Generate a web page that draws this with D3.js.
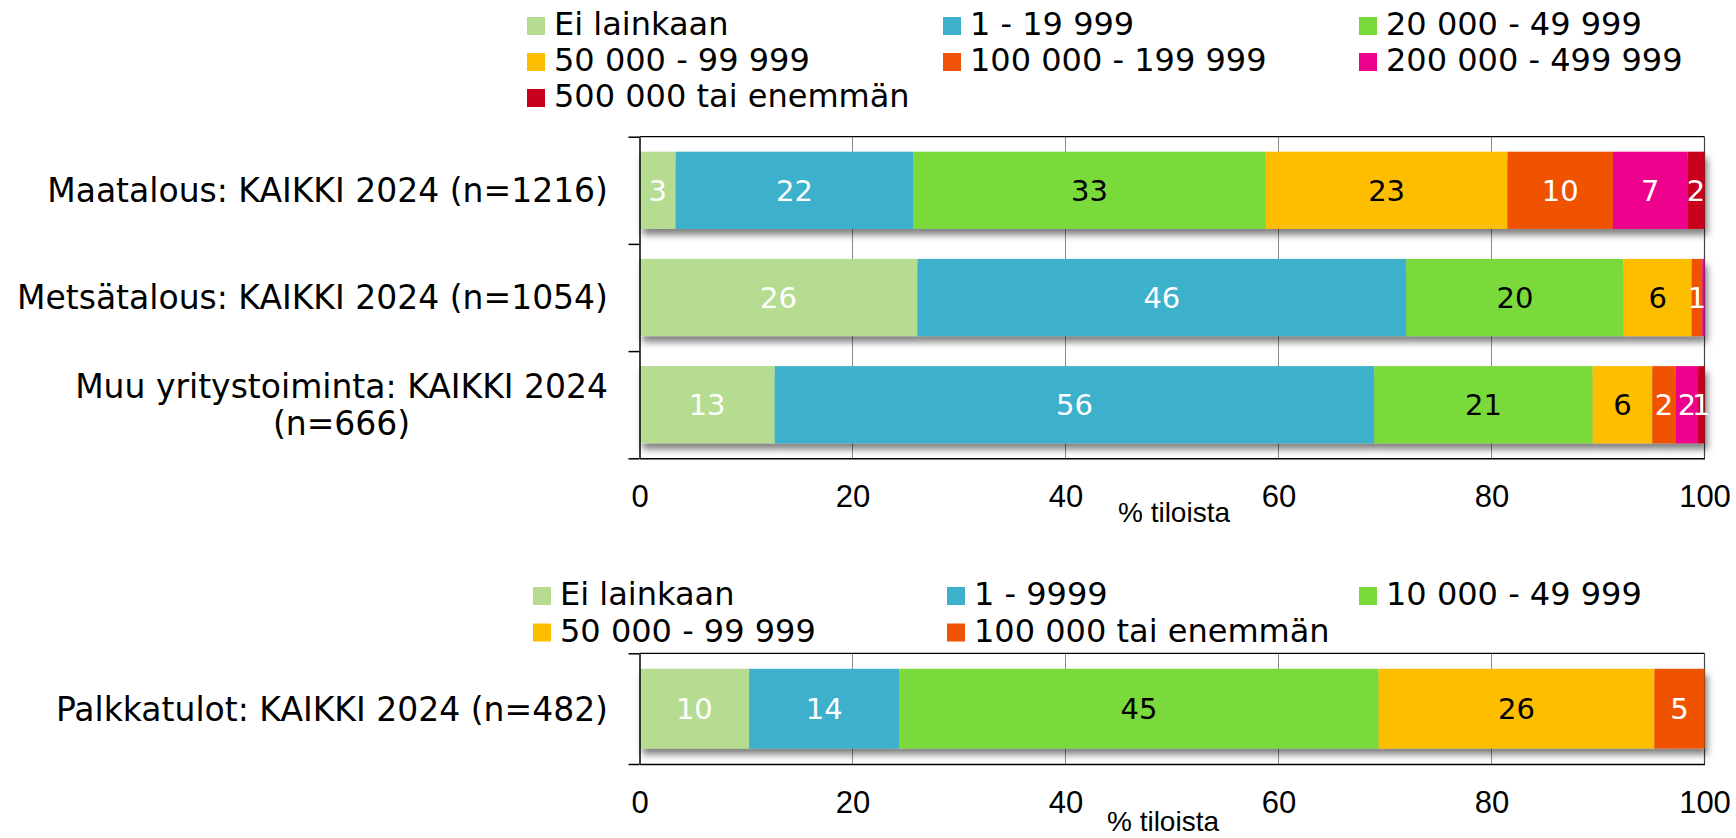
<!DOCTYPE html>
<html>
<head>
<meta charset="utf-8">
<script src="https://cdn.jsdelivr.net/npm/d3@7"></script>
<style>
  body { margin: 0; background: #fff; }
  svg { display: block; }
</style>
</head>
<body>
<div id="chart"></div>
<script>
// ---- data ----
let topCategories = ["Maatalous: KAIKKI 2024 (n=1216)", "Metsätalous: KAIKKI 2024 (n=1054)", "Muu yritystoiminta: KAIKKI 2024 (n=666)"];
let topSeries = ["Ei lainkaan", "1 - 19 999", "20 000 - 49 999", "50 000 - 99 999", "100 000 - 199 999", "200 000 - 499 999", "500 000 tai enemmän"];
let maatalousValues = [3.4, 22.3, 33.1, 22.7, 9.9, 7.0, 1.6];
let metsatalousValues = [26.1, 45.9, 20.4, 6.4, 1.0, 0.2, 0];
let muuValues = [12.7, 56.3, 20.5, 5.6, 2.2, 2.1, 0.6];

let bottomCategories = ["Palkkatulot: KAIKKI 2024 (n=482)"];
let bottomSeries = ["Ei lainkaan", "1 - 9999", "10 000 - 49 999", "50 000 - 99 999", "100 000 tai enemmän"];
let palkkaValues = [10.3, 14.1, 45.0, 25.9, 4.7];

let xTicks = [0, 20, 40, 60, 80, 100];
let axisTitle = "% tiloista";

// colours
let topColors = ["#b5dc90", "#3eb0cc", "#7ad93a", "#fdbe00", "#f05206", "#ec008c", "#c8001c"];
let topTextColors = ["#fff", "#fff", "#000", "#000", "#fff", "#fff", "#fff"];
let bottomColors = ["#b5dc90", "#3eb0cc", "#7ad93a", "#fdbe00", "#f05206"];
let bottomTextColors = ["#fff", "#fff", "#000", "#000", "#fff"];

let svgWidth = 1736;
let svgHeight = 838;

let svg = d3.select("#chart")
  .append("svg")
  .attr("width", svgWidth)
  .attr("height", svgHeight);

// drop shadow under the bars
let defs = svg.append("defs");
defs.append("filter")
  .attr("id", "shadow")
  .attr("x", "-5%").attr("y", "-20%")
  .attr("width", "115%").attr("height", "160%")
  .append("feDropShadow")
  .attr("dx", 3).attr("dy", 6)
  .attr("stdDeviation", 3.5)
  .attr("flood-color", "#000")
  .attr("flood-opacity", 0.5);

let xScale = d3.scaleLinear().domain([0, 100]).range([639.5, 1704.5]);

function drawPanel(cfg) {
  let g = svg.append("g");

  let yScale = d3.scaleBand()
    .domain(cfg.categories)
    .range([cfg.top, cfg.bottom])
    .paddingInner(0.28)
    .paddingOuter(0.14);

  // gridlines
  g.append("g")
    .selectAll("line")
    .data(xTicks.filter(t => t > 0 && t < 100))
    .enter()
    .append("line")
    .attr("x1", d => xScale(d)).attr("x2", d => xScale(d))
    .attr("y1", cfg.top).attr("y2", cfg.bottom)
    .attr("stroke", "#8c8c8c")
    .attr("stroke-width", 1);

  // plot frame: top and right
  g.append("line")
    .attr("x1", xScale(0)).attr("x2", xScale(100))
    .attr("y1", cfg.top).attr("y2", cfg.top)
    .attr("stroke", "#000").attr("stroke-width", 1.2);
  g.append("line")
    .attr("x1", xScale(100)).attr("x2", xScale(100))
    .attr("y1", cfg.top).attr("y2", cfg.bottom)
    .attr("stroke", "#444").attr("stroke-width", 1.2);

  // bars
  cfg.rows.forEach((vals, r) => {
    let cat = cfg.categories[r];
    let segs = [];
    let cum = 0;
    vals.forEach((v, i) => {
      segs.push({ start: cum, value: v, i: i });
      cum += v;
    });

    let row = g.append("g").attr("filter", "url(#shadow)");
    row.selectAll("rect")
      .data(segs.filter(s => s.value > 0))
      .enter()
      .append("rect")
      .attr("x", d => xScale(d.start))
      .attr("y", yScale(cat))
      .attr("width", d => xScale(d.start + d.value) - xScale(d.start))
      .attr("height", yScale.bandwidth())
      .attr("fill", d => cfg.colors[d.i]);

    g.append("g")
      .selectAll("text")
      .data(segs.filter(s => Math.round(s.value) >= 1))
      .enter()
      .append("text")
      .attr("x", d => xScale(d.start + d.value / 2))
      .attr("y", yScale(cat) + yScale.bandwidth() / 2)
      .attr("dy", "0.36em")
      .attr("text-anchor", "middle")
      .attr("font-family", "DejaVu Sans, sans-serif")
      .attr("font-size", 29)
      .attr("fill", d => cfg.textColors[d.i])
      .text(d => Math.round(d.value));
  });

  // left axis, ticks sit on the band boundaries
  let boundary = d3.scaleLinear().domain([0, cfg.categories.length]).range([cfg.top, cfg.bottom]);
  let leftAxis = d3.axisLeft(boundary)
    .tickValues(d3.range(cfg.categories.length + 1))
    .tickFormat("")
    .tickSize(11)
    .tickSizeOuter(0);
  let la = g.append("g")
    .attr("transform", `translate(${xScale(0)},0)`)
    .call(leftAxis);
  la.selectAll("path, line").attr("stroke", "#000").attr("stroke-width", 1.5);

  // bottom axis
  let bottomAxis = d3.axisBottom(xScale)
    .tickValues(xTicks)
    .tickSize(0)
    .tickSizeOuter(0)
    .tickPadding(27);
  let ba = g.append("g")
    .attr("transform", `translate(0,${cfg.bottom})`)
    .call(bottomAxis);
  ba.select(".domain").attr("stroke", "#000").attr("stroke-width", 1.5);
  ba.selectAll("text")
    .attr("font-family", "Liberation Sans, Arial, sans-serif")
    .attr("font-size", 31)
    .attr("fill", "#000");

  g.append("text")
    .attr("x", cfg.titleX)
    .attr("y", cfg.titleY)
    .attr("text-anchor", "middle")
    .attr("font-family", "Liberation Sans, Arial, sans-serif")
    .attr("font-size", 28)
    .text(axisTitle);

  // category labels, wrapped when too long and centred like Excel does
  cfg.categories.forEach(cat => {
    let t = g.append("text")
      .attr("font-family", "DejaVu Sans, sans-serif")
      .attr("font-size", 33)
      .attr("fill", "#000");
    let words = cat.split(" ");
    let lines = [];
    let line = [];
    words.forEach(w => {
      line.push(w);
      t.text(line.join(" "));
      if (t.node().getComputedTextLength() > 600 && line.length > 1) {
        line.pop();
        lines.push(line.join(" "));
        line = [w];
      }
    });
    lines.push(line.join(" "));
    t.text(null);

    let widths = lines.map(l => {
      t.text(l);
      return t.node().getComputedTextLength();
    });
    t.text(null);
    let maxW = d3.max(widths);
    let cx = 608 - maxW / 2;
    let lineH = 37;
    let cy = yScale(cat) + yScale.bandwidth() / 2;
    let firstY = cy - (lines.length - 1) * lineH / 2;

    lines.forEach((l, k) => {
      t.append("tspan")
        .attr("x", cx)
        .attr("y", firstY + k * lineH)
        .attr("dy", "0.36em")
        .attr("text-anchor", "middle")
        .text(l);
    });
  });

  // legend
  let legend = g.append("g");
  cfg.series.forEach((s, i) => {
    let lx = cfg.legendX[i % 3];
    let ly = cfg.legendY + Math.floor(i / 3) * cfg.legendRow;
    legend.append("rect")
      .attr("x", lx).attr("y", ly)
      .attr("width", 18).attr("height", 18)
      .attr("fill", cfg.colors[i]);
    legend.append("text")
      .attr("x", lx + 27)
      .attr("y", ly + 18)
      .attr("font-family", "DejaVu Sans, sans-serif")
      .attr("font-size", 32)
      .attr("fill", "#000")
      .text(s);
  });
}

drawPanel({
  categories: topCategories,
  rows: [maatalousValues, metsatalousValues, muuValues],
  series: topSeries,
  colors: topColors,
  textColors: topTextColors,
  top: 136.7,
  bottom: 458.3,
  legendX: [527, 943, 1359],
  legendY: 17,
  legendRow: 36,
  titleX: 1174,
  titleY: 522
});

drawPanel({
  categories: bottomCategories,
  rows: [palkkaValues],
  series: bottomSeries,
  colors: bottomColors,
  textColors: bottomTextColors,
  top: 653.3,
  bottom: 764,
  legendX: [533, 947, 1359],
  legendY: 587,
  legendRow: 36.5,
  titleX: 1163,
  titleY: 831
});
</script>
</body>
</html>
